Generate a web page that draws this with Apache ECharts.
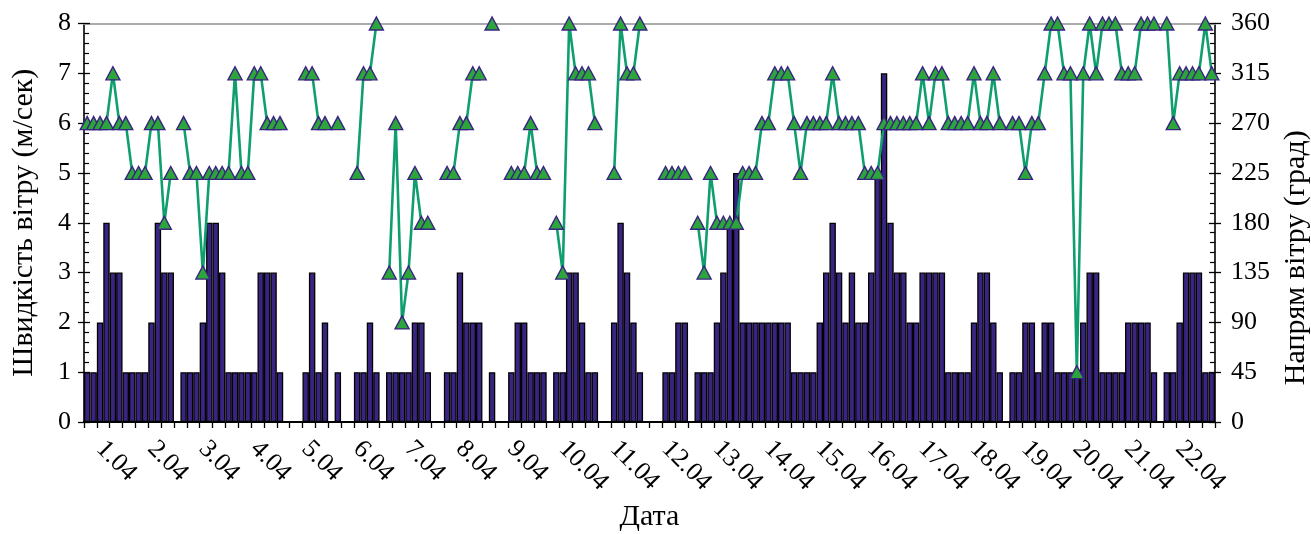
<!DOCTYPE html>
<html>
<head>
<meta charset="utf-8">
<script src="https://cdn.jsdelivr.net/npm/echarts@6/dist/echarts.min.js"></script>
<style>
html,body{margin:0;padding:0;background:#ffffff;}
#chart{width:1311px;height:534px;}
</style>
</head>
<body>
<div id="chart"></div>
<script>
// Day labels (x axis) and 8 observation terms per day
const days = ['1.04','2.04','3.04','4.04','5.04','6.04','7.04','8.04','9.04','10.04','11.04',
              '12.04','13.04','14.04','15.04','16.04','17.04','18.04','19.04','20.04','21.04','22.04'];
const terms = ['00','03','06','09','12','15','18','21'];

// Wind speed, m/s (8 values per day)
const speed = [
  1,1,2,4,3,3,1,1,
  1,1,2,4,3,3,0,1,
  1,1,2,4,4,3,1,1,
  1,1,1,3,3,3,1,0,
  0,0,1,3,1,2,0,1,
  0,0,1,1,2,1,0,1,
  1,1,1,2,2,1,0,0,
  1,1,3,2,2,2,0,1,
  0,0,1,2,2,1,1,1,
  0,1,1,3,3,2,1,1,
  0,0,2,4,3,2,1,0,
  0,0,1,1,2,2,0,1,
  1,1,2,3,4,5,2,2,
  2,2,2,2,2,2,1,1,
  1,1,2,3,4,3,2,3,
  2,2,3,5,7,4,3,3,
  2,2,3,3,3,3,1,1,
  1,1,2,3,3,2,1,0,
  1,1,2,2,1,2,2,1,
  1,1,1,2,3,3,1,1,
  1,1,2,2,2,2,1,0,
  1,1,2,3,3,3,1,1
];

// Wind direction, degrees (null = calm)
const direction = [
  270,270,270,270,315,270,270,225,
  225,225,270,270,180,225,null,270,
  225,225,135,225,225,225,225,315,
  225,225,315,315,270,270,270,null,
  null,null,315,315,270,270,null,270,
  null,null,225,315,315,360,null,135,
  270,90,135,225,180,180,null,null,
  225,225,270,270,315,315,null,360,
  null,null,225,225,225,270,225,225,
  null,180,135,360,315,315,315,270,
  null,null,225,360,315,315,360,null,
  null,null,225,225,225,225,null,180,
  135,225,180,180,180,180,225,225,
  225,270,270,315,315,315,270,225,
  270,270,270,270,315,270,270,270,
  270,225,225,225,270,270,270,270,
  270,270,315,270,315,315,270,270,
  270,270,315,270,270,315,270,null,
  270,270,225,270,270,315,360,360,
  315,315,45,315,360,315,360,360,
  360,315,315,315,360,360,360,null,
  360,270,315,315,315,315,360,315
];

const categories = [];
days.forEach(d => terms.forEach(t => categories.push(d + ' ' + t)));

const FONT = 'Liberation Serif';
const chart = echarts.init(document.getElementById('chart'), null, {renderer: 'canvas'});

function mainY(pos, max, interval, name, margin, nameGap, namePad) {
  return {
    type: 'value', position: pos, min: 0, max: max, interval: interval,
    axisLine: {show: true, onZero: false, lineStyle: {color: '#000', width: 1.6}},
    axisTick: {show: true, inside: true, length: 6, lineStyle: {color: '#000', width: 1.3}},
    minorTick: {show: true, splitNumber: 5, length: 5, lineStyle: {color: '#000', width: 1.2}},
    axisLabel: {show: true, color: '#000', fontFamily: FONT, fontSize: 26, margin: margin},
    splitLine: {show: false},
    name: name, nameLocation: 'middle', nameRotate: 90, nameGap: nameGap,
    nameTextStyle: {color: '#000', fontFamily: FONT, fontSize: 30, padding: namePad}
  };
}
function tickY(pos, max, interval) {
  return {
    type: 'value', position: pos, min: 0, max: max, interval: interval,
    axisLine: {show: false},
    axisTick: {show: true, inside: false, length: 6, lineStyle: {color: '#000', width: 1.3}},
    axisLabel: {show: false}, splitLine: {show: false}
  };
}

chart.setOption({
  animation: false,
  backgroundColor: '#ffffff',
  grid: {left: 84, right: 96, top: 23.5, bottom: 112, containLabel: false, outerBoundsMode: 'none'},
  xAxis: [
    {
      type: 'category', data: categories, position: 'bottom', boundaryGap: true,
      axisLine: {show: true, onZero: false, lineStyle: {color: '#000', width: 2}},
      axisTick: {show: true, inside: false, length: 6, interval: (i) => i % 2 === 0,
                 lineStyle: {color: '#000', width: 1.3}},
      axisLabel: {show: true, interval: (i) => i % 8 === 2, rotate: -45, margin: 23,
                  color: '#000', fontFamily: FONT, fontSize: 26,
                  formatter: (v) => v.split(' ')[0]},
      splitLine: {show: false},
      name: 'Дата', nameLocation: 'middle', nameGap: 80,
      nameTextStyle: {color: '#000', fontFamily: FONT, fontSize: 30}
    },
    {
      type: 'category', data: categories, position: 'top',
      axisLine: {show: true, onZero: false, lineStyle: {color: '#ababab', width: 2}},
      axisTick: {show: false}, axisLabel: {show: false}, splitLine: {show: false}
    }
  ],
  yAxis: [
    mainY('left', 8, 1, 'Швидкість вітру (м/сек)', 13, 45, [0, 0, 0, 0]),
    mainY('right', 360, 45, 'Напрям вітру (град)', 16, 65, [0, 70, 0, 0]),
    tickY('left', 8, 1),
    tickY('right', 360, 45)
  ],
  series: [
    {
      type: 'bar', xAxisIndex: 0, yAxisIndex: 0, data: speed,
      barCategoryGap: '0%', barGap: '0%',
      itemStyle: {color: '#3a2482', borderColor: '#000', borderWidth: 1.3},
      emphasis: {disabled: true}
    },
    {
      type: 'line', xAxisIndex: 0, yAxisIndex: 1, data: direction,
      connectNulls: false, showSymbol: true, showAllSymbol: true,
      symbol: 'triangle', symbolSize: [14, 13],
      lineStyle: {color: '#0f9f6e', width: 2.6},
      itemStyle: {color: '#2ca53a', borderColor: '#3a2482', borderWidth: 1.4},
      emphasis: {disabled: true}
    }
  ]
});
</script>
</body>
</html>
